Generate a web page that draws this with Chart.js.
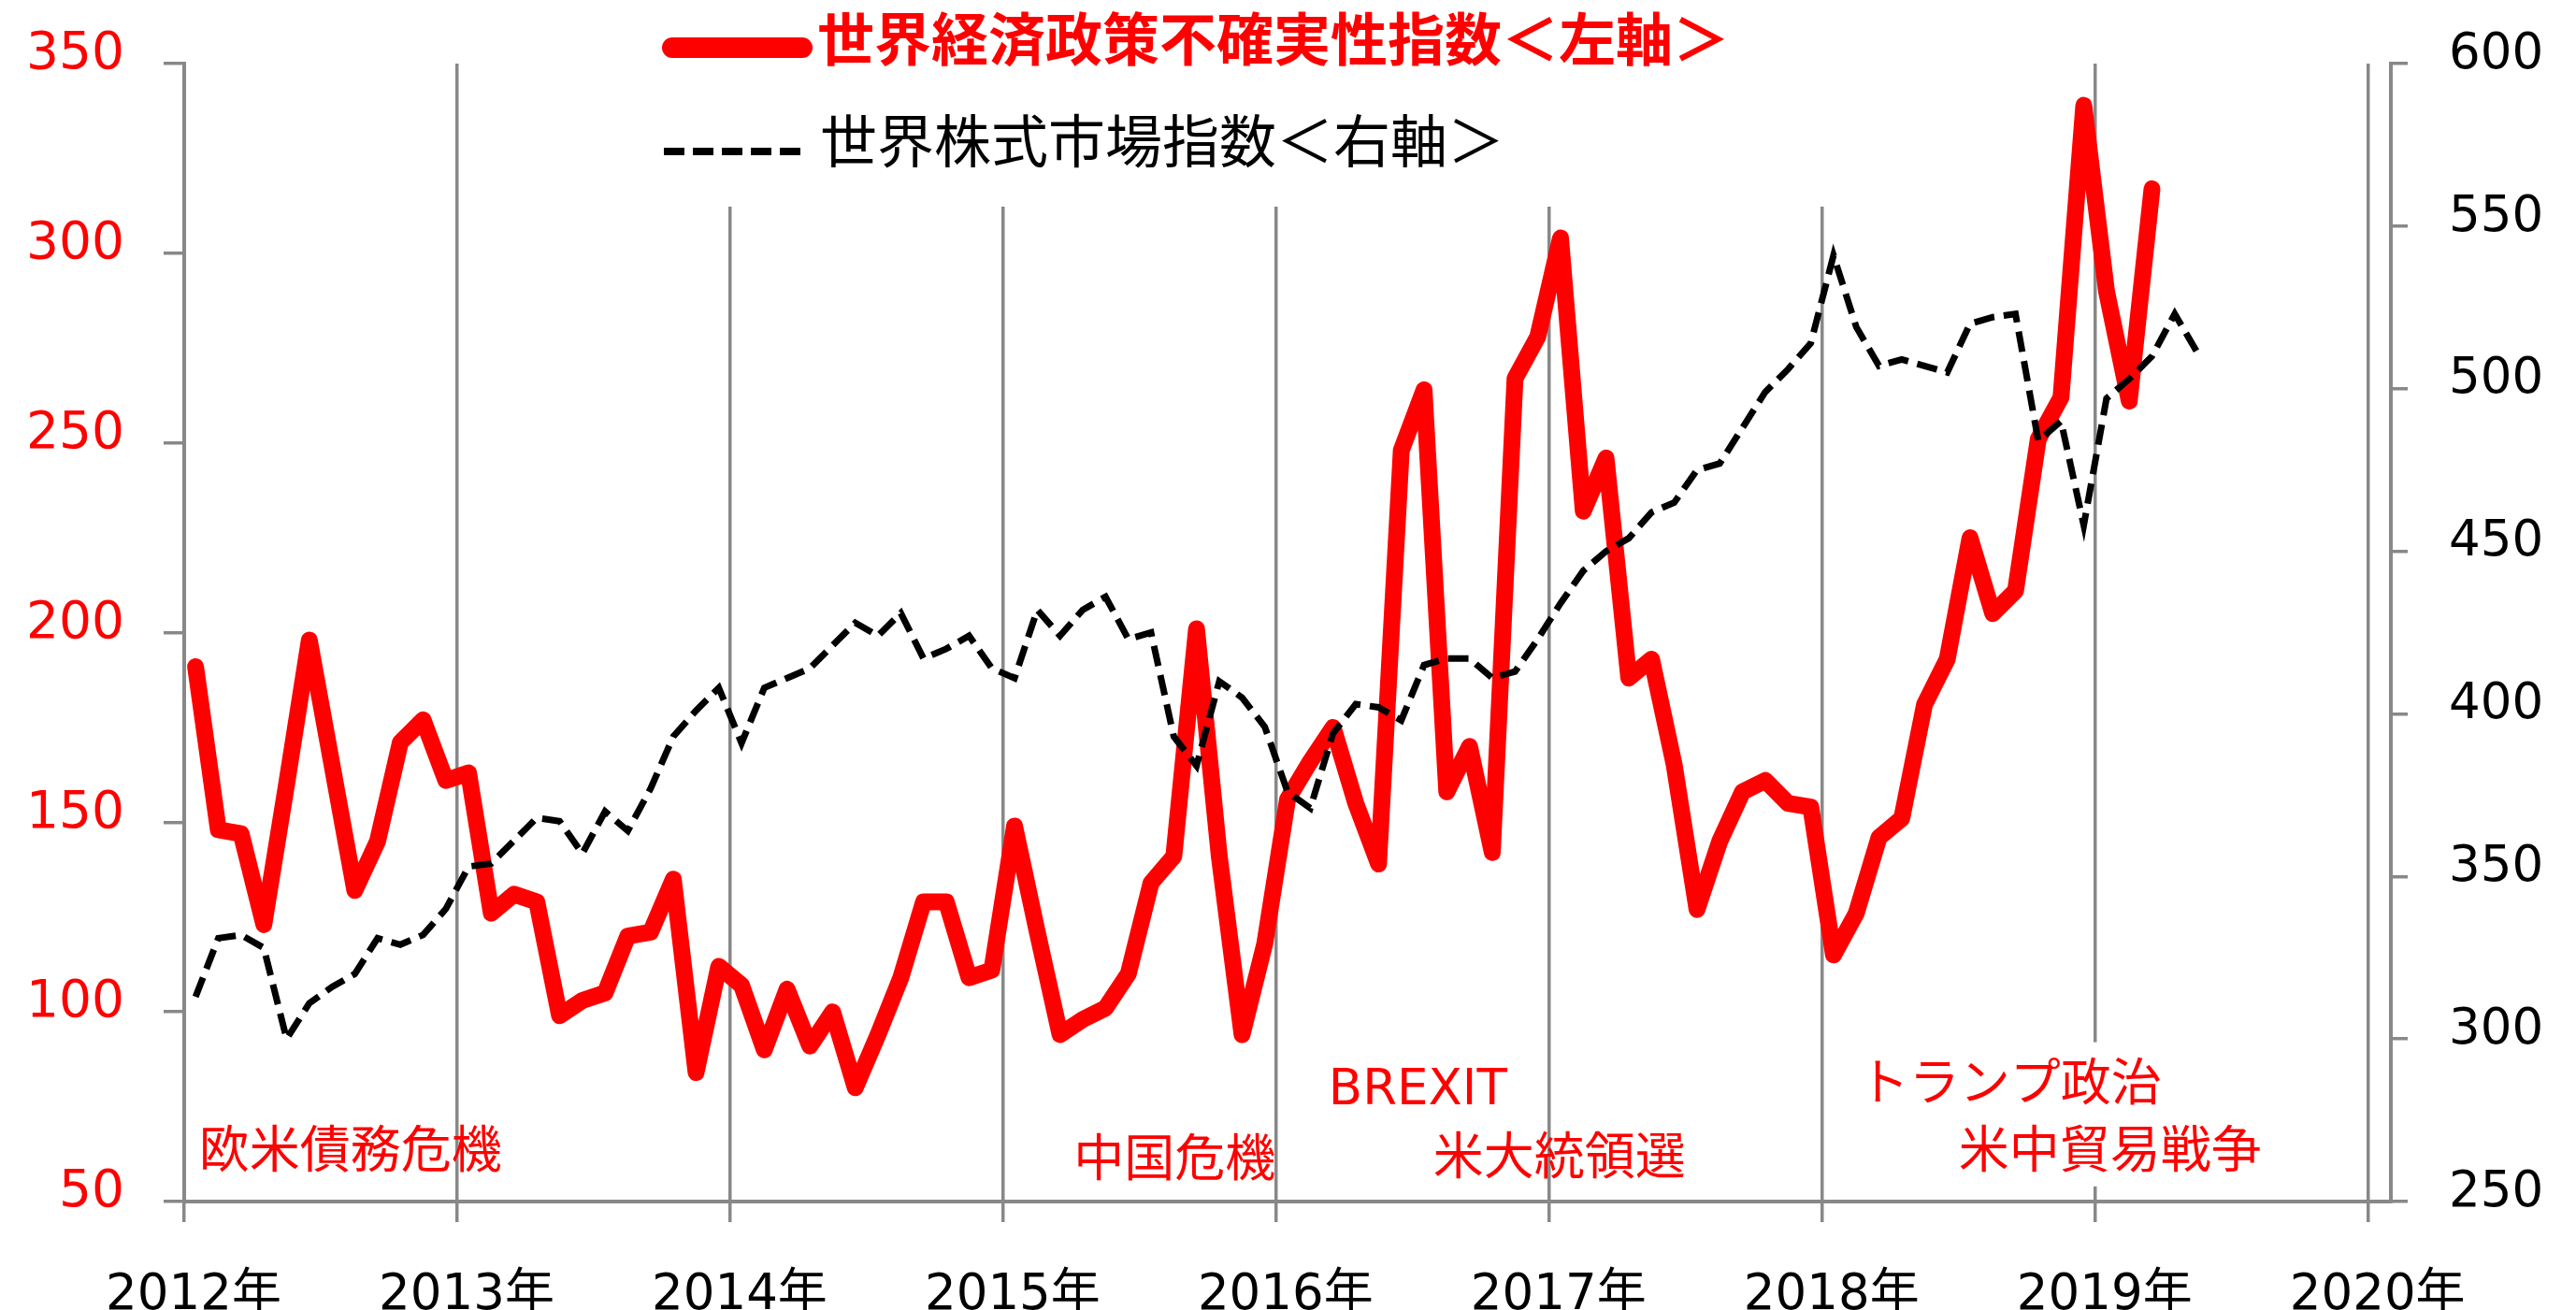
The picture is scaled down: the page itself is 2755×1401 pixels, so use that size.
<!DOCTYPE html>
<html>
<head>
<meta charset="utf-8">
<script src="https://cdn.jsdelivr.net/npm/chart.js@4.4.1/dist/chart.umd.min.js"></script>
<style>
html,body{margin:0;padding:0;background:#fff;}
#wrap{position:relative;width:2755px;height:1401px;}
</style>
</head>
<body>
<div id="wrap"><canvas id="c" width="2755" height="1401"></canvas></div>
<script>
// ---- data (monthly, from Jan 2012) ----
const startYear = 2012;
const yearLabels = ['2012年','2013年','2014年','2015年','2016年','2017年','2018年','2019年','2020年'];
const leftTicks = [50,100,150,200,250,300,350];
const rightTicks = [250,300,350,400,450,500,550,600];

// 世界経済政策不確実性指数 (left axis), Jan 2012 – Mar 2019
const epuValues = [
  191,148,147,123,160,198,165,132,145,171,177,161,
  163,126,131,129, 99,103,105,120,121,135, 84,112,
  107, 90,106, 91,100, 80, 94,109,129,129,109,111,
  149,121, 94, 98,101,110,134,141,201,141, 94,118,
  156,166,175,155,139,248,264,158,170,142,267,278,
  304,232,246,188,193,165,127,145,158,161,155,154,
  115,126,146,151,181,193,225,205,211,251,262,339,
  290,261,317
];
// 世界株式市場指数 (right axis), Jan 2012 – May 2019
const stockValues = [
  313,331,332,328,300,311,316,320,331,329,332,340,
  353,354,361,368,367,357,370,364,377,393,401,408,
  391,408,411,414,421,428,424,431,417,420,424,414,
  411,432,424,432,436,423,425,393,384,410,405,396,
  376,371,394,403,402,398,415,417,417,411,413,423,
  434,444,450,454,462,465,475,477,488,499,506,514,
  541,519,507,509,507,505,520,522,523,484,490,458,
  497,503,510,523,511
];

const legendLabels = ['世界経済政策不確実性指数＜左軸＞', '世界株式市場指数＜右軸＞'];
const eventLabels = ['欧米債務危機','中国危機','BREXIT','米大統領選','トランプ政治','米中貿易戦争'];

// ---- placement of annotations (month index, left-axis value) ----
const eventPlacement = [
  {m:0.65, v:64.0},
  {m:39.1, v:61.6},
  {m:50.3, v:79.0},
  {m:54.9, v:62.1},
  {m:73.6, v:81.8},
  {m:78.0, v:64.0}
];
const eventBox = {m1:73.2, m2:92.0, vTop:92, vBottom:54};

const GRID = '#888888';
const NUMFONT = '"DejaVu Sans", "Noto Sans CJK JP", sans-serif';
const CJKFONT = '"Noto Sans CJK JP", "DejaVu Sans", sans-serif';

const epuData = epuValues.map((v, i) => ({x: i + 0.5, y: v}));
const stockData = stockValues.map((v, i) => ({x: i + 0.5, y: v}));

const overlay = {
  id: 'overlay',
  beforeDatasetsDraw(chart) {
    const {ctx, scales} = chart;
    const x = scales.x, y = scales.y;
    ctx.save();
    ctx.fillStyle = '#ffffff';
    // legend background
    ctx.fillRect(690, 0, 1370, 221);
    // text box behind the 2018-2019 annotations
    const bx1 = x.getPixelForValue(eventBox.m1), bx2 = x.getPixelForValue(eventBox.m2);
    const by1 = y.getPixelForValue(eventBox.vTop), by2 = y.getPixelForValue(eventBox.vBottom);
    ctx.fillRect(bx1, by1, bx2 - bx1, by2 - by1);

    // annotations
    ctx.fillStyle = '#ff0000';
    ctx.textAlign = 'left';
    ctx.textBaseline = 'middle';
    eventLabels.forEach((t, k) => {
      const p = eventPlacement[k];
      ctx.font = (t === 'BREXIT' ? '53px "DejaVu Sans", sans-serif' : '54px ' + CJKFONT);
      ctx.fillText(t, x.getPixelForValue(p.m), y.getPixelForValue(p.v));
    });

    // legend
    ctx.strokeStyle = '#ff0000';
    ctx.lineWidth = 22;
    ctx.lineCap = 'round';
    ctx.beginPath(); ctx.moveTo(719, 51); ctx.lineTo(858, 51); ctx.stroke();
    ctx.font = 'bold 61px ' + CJKFONT;
    ctx.fillStyle = '#ff0000';
    ctx.fillText(legendLabels[0], 874, 42);

    ctx.strokeStyle = '#000000';
    ctx.lineWidth = 8;
    ctx.lineCap = 'butt';
    ctx.setLineDash([22, 9]);
    ctx.beginPath(); ctx.moveTo(710, 162); ctx.lineTo(858, 162); ctx.stroke();
    ctx.setLineDash([]);
    ctx.font = '61px ' + CJKFONT;
    ctx.fillStyle = '#000000';
    ctx.fillText(legendLabels[1], 877, 151);
    ctx.restore();
  }
};

const fitY = w => s => { s.width = w; s.paddingTop = 0; s.paddingBottom = 0; };

new Chart(document.getElementById('c'), {
  type: 'line',
  data: {
    datasets: [
      {
        label: legendLabels[1],
        data: stockData,
        yAxisID: 'y1',
        borderColor: '#000000',
        borderWidth: 7,
        borderDash: [22, 10],
        pointRadius: 0,
        tension: 0,
        fill: false,
        order: 0
      },
      {
        label: legendLabels[0],
        data: epuData,
        yAxisID: 'y',
        borderColor: '#ff0000',
        borderWidth: 18,
        borderJoinStyle: 'round',
        borderCapStyle: 'round',
        pointRadius: 0,
        tension: 0,
        fill: false,
        order: 1
      }
    ]
  },
  options: {
    responsive: false,
    animation: false,
    devicePixelRatio: 1,
    layout: {padding: {top: 68, left: 0, right: 0, bottom: 0}},
    plugins: {legend: {display: false}, tooltip: {enabled: false}},
    scales: {
      x: {
        type: 'linear', position: 'bottom', min: 0, max: 97,
        afterBuildTicks: s => { s.ticks = yearLabels.map((_, k) => ({value: k * 12})); },
        afterFit: s => { s.height = 116; s.paddingLeft = 0; s.paddingRight = 0; },
        ticks: {
          callback: v => yearLabels[Math.round(v / 12)],
          color: '#000000', font: {family: NUMFONT, size: 53},
          padding: 47, labelOffset: 10, maxRotation: 0, autoSkip: false
        },
        grid: {color: GRID, lineWidth: 3.5, tickLength: 22, tickColor: GRID, drawOnChartArea: true},
        border: {display: true, color: GRID, width: 4}
      },
      y: {
        position: 'left', min: 50, max: 350,
        afterBuildTicks: s => { s.ticks = leftTicks.map(v => ({value: v})); },
        afterFit: fitY(197),
        ticks: {color: '#ff0000', font: {family: NUMFONT, size: 55}, padding: 42, labelOffset: -9},
        grid: {drawOnChartArea: false, tickLength: 22, tickColor: GRID, lineWidth: 3.5},
        border: {display: true, color: GRID, width: 4}
      },
      y1: {
        position: 'right', min: 250, max: 600,
        afterBuildTicks: s => { s.ticks = rightTicks.map(v => ({value: v})); },
        afterFit: fitY(198),
        ticks: {color: '#000000', font: {family: NUMFONT, size: 53}, padding: 44, labelOffset: -9},
        grid: {drawOnChartArea: false, tickLength: 18, tickColor: GRID, lineWidth: 3.5},
        border: {display: true, color: GRID, width: 4}
      }
    }
  },
  plugins: [overlay]
});
</script>
</body>
</html>
